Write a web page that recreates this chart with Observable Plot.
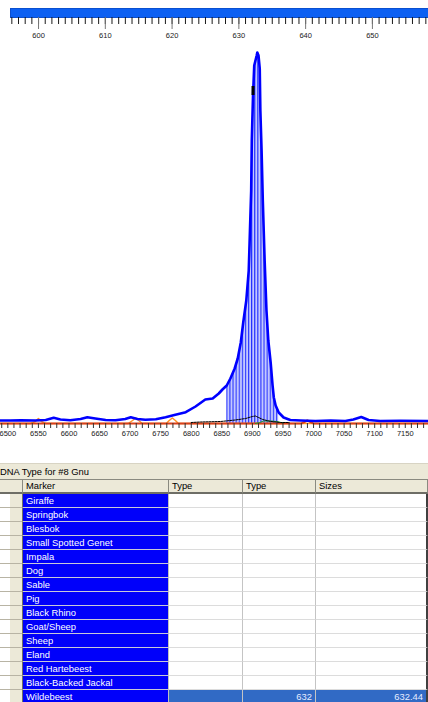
<!DOCTYPE html>
<html>
<head>
<meta charset="utf-8">
<script src="https://cdn.jsdelivr.net/npm/d3@7"></script>
<script src="https://cdn.jsdelivr.net/npm/@observablehq/plot@0.6"></script>
<style>
  html, body { margin: 0; padding: 0; background: #fff; }
  body { width: 428px; height: 702px; position: relative; overflow: hidden;
         font-family: "Liberation Sans", Arial, sans-serif; }
  #ruler { position: absolute; left: 0; top: 0; }
  #trace { position: absolute; left: 0; top: 40px; }
  #panel { position: absolute; left: 0; top: 463px; width: 428px; height: 239px; overflow: hidden; font-size: 9.4px; }
  .title { height: 15px; line-height: 15px; background: #ece9d8; border-top: 1px solid #d8d4c4;
           border-bottom: 1px solid #8a8a80; padding-left: 0; white-space: nowrap; }
  .title span { margin-left: 0; color: #000; }
  .row { display: flex; height: 14px; }
  .cell { box-sizing: border-box; height: 14px; line-height: 13px; padding: 0 3px; white-space: nowrap; overflow: hidden; }
  .head .cell { background: #ece9d8; border-right: 1px solid #8a8a80; border-bottom: 2px solid #6e6e66; line-height: 12px; color: #000; }
  .body .c0 { background: linear-gradient(to right, #fff 10px, #ece9d8 10px); border-right: 1px solid #6e6e66; border-bottom: 1px solid #b8b4a4; }
  .body .marker { background: #0000fa; color: #fff; border-bottom: 1px solid #c8c8d8; border-right: 1px solid #c0c0c0; }
  .body .val { background: #fff; border-right: 1px solid #c4c4c4; border-bottom: 1px solid #dcdcdc; text-align: right; }
  .body.sel .val { background: #316ac5; color: #e6ecff; border-bottom: none; }
  .body .last { border-right: 2px solid #404040; }
</style>
</head>
<body>
<div id="ruler"></div>
<div id="trace"></div>
<div id="panel"></div>
<script>
// Size ruler (bp) above the electropherogram
const sizeMinor = d3.range(596, 659, 1);
const sizeMajor = d3.range(600, 660, 10);

// Scan axis ticks under the trace
const scanTicks = d3.range(6490, 7190, 10);

// Blue dye trace: scan number and signal (RFU)
const blueScan = [6488,6504,6521,6545,6562,6575,6586,6602,6619,6630,6643,6660,6676,6692,6701,6712,6725,6742,6758,6774,6791,6807,6823,6835,6845,6851,6858,6864,6871,6876,6881,6885,6890,6894,6896,6898,6899,6901,6903,6907,6908,6910,6912,6913,6915,6917,6920,6923,6926,6930,6933,6935,6938,6943,6951,6962,6979,7003,7028,7052,7065,7078,7090,7109,7142,7188];
const blueRfu  = [60,60,64,60,70,114,80,64,90,126,100,70,64,90,126,90,74,84,126,174,226,340,480,500,600,680,760,900,1100,1300,1620,2020,2460,3060,3860,4660,5660,6560,7160,7360,7420,7360,7100,6260,5460,4460,3260,2260,1660,1200,760,520,360,220,120,70,60,50,60,50,80,130,70,50,54,50];

// Other dye channels
const orangeScan = [6488,6537,6545,6550,6555,6562,6697,6704,6709,6714,6720,6759,6764,6769,6774,6779,7188];
const orangeRfu  = [0,0,40,100,40,0,0,60,110,60,0,0,60,110,60,0,0];
const redScan = [6488,6980,6985,6990,6995,7000,7188];
const redRfu  = [0,0,30,60,30,0,0];
const greenScan = [6905,6912,6918,6930,6940,6950];
const greenRfu  = [0,20,50,50,40,10];
const blackScan = [6800,6815,6848,6872,6889,6900,6905,6910,6917,6930,6946,6960];
const blackRfu  = [20,30,40,70,100,140,150,120,80,40,20,20];

// Called allele: scan window shaded under the peak, and the peak label marker
const peakFrom = 6858, peakTo = 6946;
const peakMarkScan = [6901];
const peakMarkLow = [6560], peakMarkHigh = [6740];

// Genotype table
const markers = ["Giraffe","Springbok","Blesbok","Small Spotted Genet","Impala","Dog","Sable","Pig","Black Rhino","Goat/Sheep","Sheep","Eland","Red Hartebeest","Black-Backed Jackal","Wildebeest"];
const typeCalls = ["","","","","","","","","","","","","","","632"];
const sizeCalls = ["","","","","","","","","","","","","","","632.44"];
const selectedMarker = "Wildebeest";
const columns = ["", "Marker", "Type", "Type", "Sizes"];
const panelTitle = "DNA Type for #8 Gnu";

const pts = (xs, ys) => xs.map((s, i) => ({scan: s, rfu: ys[i]}));
const blue = pts(blueScan, blueRfu);
const font = "'Liberation Sans', Arial, sans-serif";

// ---- size ruler ----
const ruler = Plot.plot({
  width: 428, height: 42,
  marginLeft: 10, marginRight: 0, marginTop: 8, marginBottom: 25,
  style: {fontFamily: font, background: "transparent", overflow: "visible"},
  x: {domain: [595.8, 658.4]},
  marks: [
    Plot.frame({fill: "#0c60f2", stroke: "#0a4fd0"}),
    Plot.axisX(sizeMinor, {tickSize: 7, tickFormat: () => "", stroke: "#1a1a1a", label: null}),
    Plot.axisX(sizeMajor, {tickSize: 12, tickPadding: 3, stroke: "#777", fill: "#222", fontSize: 7.5, label: null, tickFormat: d => String(d)})
  ]
});
document.getElementById("ruler").append(ruler);

// ---- electropherogram ----
const trace = Plot.plot({
  width: 428, height: 408,
  marginLeft: 0, marginRight: 0, marginTop: 0, marginBottom: 25,
  style: {fontFamily: font, background: "transparent", overflow: "visible"},
  x: {domain: [6488, 7188]},
  y: {domain: [0, 7660], axis: null},
  marks: [
    Plot.areaY(blue.filter(d => d.scan >= peakFrom && d.scan <= peakTo), {x: "scan", y: "rfu", fill: "url(#peak-stripes)"}),
    Plot.lineY(pts(orangeScan, orangeRfu), {x: "scan", y: "rfu", stroke: "#ff9326", strokeWidth: 1.5}),
    Plot.lineY(pts(redScan, redRfu), {x: "scan", y: "rfu", stroke: "#d8401c", strokeWidth: 2}),
    Plot.lineY(pts(greenScan, greenRfu), {x: "scan", y: "rfu", stroke: "#1f9a2a", strokeWidth: 1}),
    Plot.lineY(pts(blackScan, blackRfu), {x: "scan", y: "rfu", stroke: "#000", strokeWidth: 1, strokeDasharray: "2,1"}),
    Plot.lineY(blue, {x: "scan", y: "rfu", stroke: "#0000ff", strokeWidth: 2.6}),
    Plot.ruleX(peakMarkScan, {x: d => d, y1: (d, i) => peakMarkLow[i], y2: (d, i) => peakMarkHigh[i], stroke: "#000", strokeWidth: 3}),
    Plot.axisX(scanTicks, {tickSize: 5, tickPadding: 2, stroke: "#333", fill: "#222", fontSize: 7.5, label: null,
                           tickFormat: d => d % 50 === 0 ? String(d) : ""})
  ]
});
// vertical-stripe fill used for the called peak
const ns = "http://www.w3.org/2000/svg";
const defs = document.createElementNS(ns, "defs");
defs.innerHTML = `<pattern id="peak-stripes" patternUnits="userSpaceOnUse" width="3.1" height="6">
  <rect width="3.1" height="6" fill="#c3c8ff"/><rect width="1.1" height="6" fill="#2430ff"/></pattern>`;
trace.prepend(defs);
document.getElementById("trace").append(trace);

// ---- genotype table ----
const widths = [23, 146, 74, 73, 112];
const panel = document.getElementById("panel");
const title = document.createElement("div");
title.className = "title";
title.innerHTML = `<span>${panelTitle}</span>`;
panel.append(title);

function addRow(cls, cells, cellCls) {
  const row = document.createElement("div");
  row.className = "row " + cls;
  cells.forEach((txt, j) => {
    const c = document.createElement("div");
    c.className = "cell " + (cellCls[j] || "") + (j === cells.length - 1 ? " last" : "");
    c.style.width = widths[j] + "px";
    c.textContent = txt;
    row.append(c);
  });
  panel.append(row);
}
addRow("head", columns, []);
markers.forEach((m, i) => {
  addRow("body" + (m === selectedMarker ? " sel" : ""), ["", m, "", typeCalls[i], sizeCalls[i]],
         ["c0", "marker", "val", "val", "val"]);
});
</script>
</body>
</html>
